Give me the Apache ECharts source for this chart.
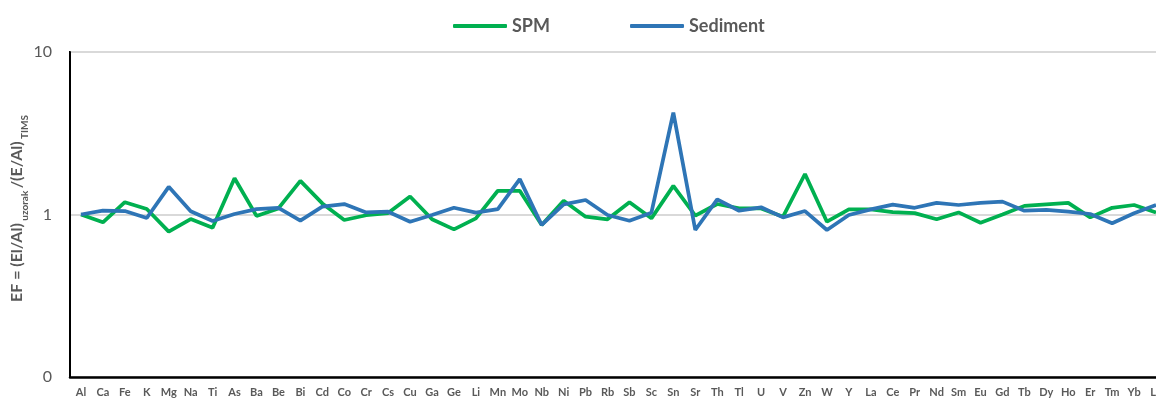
<!DOCTYPE html>
<html>
<head>
<meta charset="utf-8">
<script src="https://cdn.jsdelivr.net/npm/echarts@6/dist/echarts.min.js"></script>
<style>
  html, body { margin: 0; padding: 0; background: #fff; overflow: hidden; }
  #chart { width: 1200px; height: 399px; }
</style>
</head>
<body>
<div id="chart"></div>
<script>
// Element order along the x axis
const elements = ['Al','Ca','Fe','K','Mg','Na','Ti','As','Ba','Be','Bi','Cd','Co','Cr','Cs','Cu','Ga','Ge','Li','Mn','Mo','Nb','Ni','Pb','Rb','Sb','Sc','Sn','Sr','Th','Tl','U','V','Zn','W','Y','La','Ce','Pr','Nd','Sm','Eu','Gd','Tb','Dy','Ho','Er','Tm','Yb','Lu'];

// Enrichment factors, suspended particulate matter
const spm = [1.00,0.895,1.19,1.08,0.784,0.938,0.83,1.67,0.98,1.09,1.61,1.17,0.925,0.99,1.02,1.29,0.934,0.81,0.947,1.40,1.40,0.862,1.216,0.969,0.934,1.19,0.947,1.50,0.983,1.16,1.09,1.09,0.969,1.775,0.903,1.076,1.076,1.035,1.02,0.934,1.03,0.89,1.0,1.13,1.155,1.18,0.96,1.10,1.144,1.03];

// Enrichment factors, sediment
const sediment = [1.00,1.055,1.05,0.952,1.48,1.047,0.912,1.007,1.08,1.10,0.916,1.117,1.16,1.03,1.04,0.903,0.993,1.10,1.026,1.08,1.65,0.862,1.155,1.228,0.993,0.916,1.026,4.23,0.803,1.24,1.055,1.107,0.96,1.05,0.803,0.993,1.076,1.15,1.10,1.18,1.144,1.18,1.2,1.055,1.066,1.04,1.007,0.883,1.017,1.144];

// Log-scale tick values
const yTicks = [0.1, 1, 10];

const gray = '#595959';
const chart = echarts.init(document.getElementById('chart'));
chart.setOption({
  animation: false,
  textStyle: { fontFamily: 'Lato, "Open Sans", sans-serif' },
  legend: {
    left: 448,
    top: 12,
    itemWidth: 54,
    itemHeight: 4,
    itemGap: 80,
    icon: 'roundRect',
    textStyle: { color: gray, fontSize: 18, fontWeight: 'bold' },
    data: ['SPM', 'Sediment']
  },
  grid: {
    left: 70, top: 52, width: 1097, height: 325,
    outerBoundsMode: 'none',
    containLabel: false,
    show: true, borderColor: '#000', borderWidth: 2
  },
  xAxis: {
    type: 'category',
    data: elements,
    boundaryGap: true,
    axisLine: { lineStyle: { color: '#000', width: 2.5 } },
    axisTick: { show: false },
    axisLabel: { interval: 0, color: gray, fontSize: 11, fontWeight: 'bold', margin: 10 }
  },
  yAxis: {
    type: 'log',
    logBase: 10,
    min: yTicks[0],
    max: yTicks[yTicks.length - 1],
    axisLine: { show: true, lineStyle: { color: '#000', width: 2 } },
    axisTick: { show: false },
    axisLabel: {
      color: gray, fontSize: 16, margin: 18,
      formatter: v => (v < 1 ? '0' : String(Math.round(v)))
    },
    splitLine: { show: true, lineStyle: { color: '#d9d9d9', width: 2 } },
    name: '{m|EF = (El/Al)}{s| uzorak }{m|/(E/Al)}{s| TIMS}',
    nameLocation: 'middle',
    nameGap: 45,
    nameMoveOverlap: false,
    nameRotate: 90,
    nameTextStyle: {
      padding: [0, 0, 0, 12],
      rich: {
        m: { fontSize: 16, fontWeight: 'bold', color: gray, lineHeight: 19, verticalAlign: 'bottom' },
        s: { fontSize: 10, fontWeight: 'bold', color: gray, lineHeight: 19, verticalAlign: 'bottom', padding: [0, 0, -5, 0] }
      }
    }
  },
  series: [
    {
      name: 'SPM', type: 'line', data: spm,
      symbol: 'none',
      lineStyle: { color: '#00B050', width: 3.75 },
      itemStyle: { color: '#00B050' }
    },
    {
      name: 'Sediment', type: 'line', data: sediment,
      symbol: 'none',
      lineStyle: { color: '#2E75B6', width: 3.75 },
      itemStyle: { color: '#2E75B6' }
    }
  ]
});
</script>
</body>
</html>
